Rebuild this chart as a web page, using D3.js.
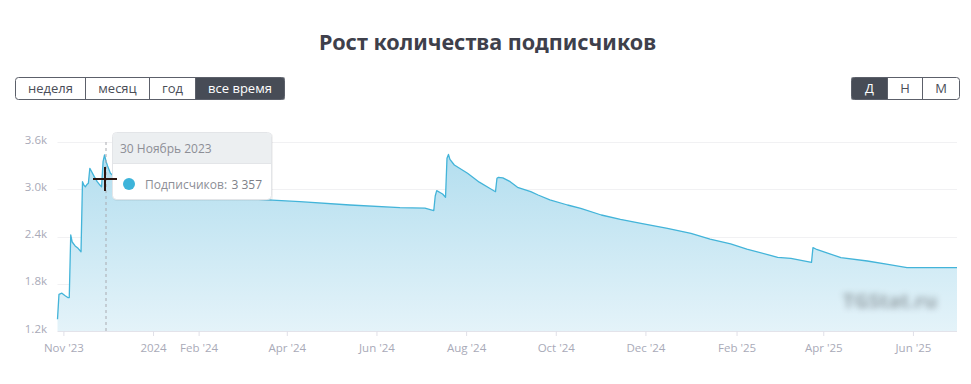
<!DOCTYPE html>
<html><head><meta charset="utf-8">
<script src="https://cdn.jsdelivr.net/npm/d3@7"></script>
<style>
body{margin:0;background:#fff;}
svg{display:block;}
</style></head>
<body>
<svg id="c" width="971" height="384"></svg>
<script>
const title = "Рост количества подписчиков";
const rangeButtons = ["неделя", "месяц", "год", "все время"];
const periodButtons = ["Д", "Н", "М"];

const dates = ["2023-10-28","2023-10-29","2023-10-31","2023-11-02","2023-11-04","2023-11-05","2023-11-06","2023-11-07","2023-11-09","2023-11-11","2023-11-13","2023-11-14","2023-11-15","2023-11-16","2023-11-17","2023-11-18","2023-11-19","2023-11-20","2023-11-22","2023-11-24","2023-11-26","2023-11-27","2023-11-28","2023-11-29","2023-11-30","2023-12-01","2023-12-03","2023-12-09","2023-12-20","2024-01-06","2024-02-02","2024-02-29","2024-03-22","2024-04-10","2024-05-14","2024-06-17","2024-07-04","2024-07-10","2024-07-11","2024-07-12","2024-07-16","2024-07-18","2024-07-19","2024-07-20","2024-07-21","2024-07-24","2024-08-02","2024-08-10","2024-08-17","2024-08-21","2024-08-22","2024-08-23","2024-08-26","2024-08-31","2024-09-05","2024-09-14","2024-09-19","2024-09-27","2024-10-09","2024-10-18","2024-11-01","2024-11-14","2024-11-28","2024-12-16","2025-01-01","2025-01-14","2025-01-28","2025-02-08","2025-03-01","2025-03-10","2025-03-24","2025-03-25","2025-03-27","2025-04-13","2025-05-01","2025-05-15","2025-05-28","2025-06-15","2025-07-01"];
const subscribers = [1350,1665,1680,1650,1625,1625,2419,2330,2280,2250,2207,3096,3050,3032,3060,3076,3266,3232,3160,3096,3050,3032,3350,3435,3357,3300,3203,3100,3020,2960,2910,2885,2863,2842,2800,2766,2760,2728,2914,2982,2940,2898,3393,3443,3380,3308,3203,3090,3012,2969,3140,3152,3145,3096,3025,2969,2927,2865,2800,2758,2673,2618,2568,2504,2441,2368,2305,2241,2136,2123,2072,2258,2241,2131,2089,2047,2004,2004,2004];

const yTicks = [1200, 1800, 2400, 3000, 3600];
const yTickLabels = ["1.2k", "1.8k", "2.4k", "3.0k", "3.6k"];
const xTicks = ["2023-11-01","2024-01-01","2024-02-01","2024-04-01","2024-06-01","2024-08-01","2024-10-01","2024-12-01","2025-02-01","2025-04-01","2025-06-01"];
const xTickLabels = ["Nov '23","2024","Feb '24","Apr '24","Jun '24","Aug '24","Oct '24","Dec '24","Feb '25","Apr '25","Jun '25"];

const tooltipDate = "2023-11-30";
const tooltipTitle = "30 Ноябрь 2023";
const tooltipLabel = "Подписчиков:";
const tooltipValue = "3 357";
const watermark = "TGStat.ru";

const parse = d3.utcParse("%Y-%m-%d");
const data = dates.map((d, i) => ({date: parse(d), value: subscribers[i]}));

const svg = d3.select("#c");
const font = "'Open Sans', 'Noto Sans', sans-serif";

// Title
svg.append("text").attr("x", 487.5).attr("y", 49.5).attr("text-anchor", "middle")
  .attr("font-family", "'Noto Sans', sans-serif").attr("font-weight", 700)
  .attr("font-size", 21.6).attr("fill", "#3e404b").text(title);

// Buttons
function buttonGroup(labels, edges, selected, y0, h) {
  const g = svg.append("g");
  labels.forEach((lab, i) => {
    const x0 = edges[i], x1 = edges[i + 1];
    if (i === selected) {
      g.append("rect").attr("x", x0).attr("y", y0).attr("width", x1 - x0).attr("height", h)
        .attr("fill", "#474c56");
    }
    g.append("text").attr("x", (x0 + x1) / 2).attr("y", y0 + h / 2 + 4.5)
      .attr("text-anchor", "middle").attr("font-family", font).attr("font-size", 13)
      .attr("fill", i === selected ? "#ffffff" : "#4a4d57").text(lab);
    if (i > 0) {
      g.append("line").attr("x1", x0).attr("x2", x0).attr("y1", y0).attr("y2", y0 + h)
        .attr("stroke", "#5c606a").attr("stroke-width", 1);
    }
  });
  g.append("rect").attr("x", edges[0]).attr("y", y0).attr("width", edges[edges.length - 1] - edges[0])
    .attr("height", h).attr("rx", 3).attr("fill", "none").attr("stroke", "#5c606a").attr("stroke-width", 1);
}
buttonGroup(rangeButtons, [15.5, 85.5, 149.5, 195.5, 284.5], 3, 77.5, 22);
buttonGroup(periodButtons, [851.5, 887.5, 922.5, 959.5], 0, 77.5, 22);

// Scales
const x = d3.scaleUtc().domain([parse("2023-10-28"), parse("2025-07-01")]).range([57.5, 957]);
const y = d3.scaleLinear().domain([1200, 3600]).range([331, 142]);

// Grid
svg.append("g").selectAll("line").data(yTicks.slice(1)).join("line")
  .attr("x1", 57.5).attr("x2", 957).attr("y1", d => Math.round(y(d)) + 0.5).attr("y2", d => Math.round(y(d)) + 0.5)
  .attr("stroke", "#f1f1f3").attr("stroke-width", 1);

// Y labels
svg.append("g").selectAll("text").data(yTicks).join("text")
  .attr("x", 47).attr("y", d => y(d) + 1.5).attr("text-anchor", "end")
  .attr("font-family", font).attr("font-size", 11.5).attr("fill", "#a9aab8")
  .text((d, i) => yTickLabels[i]);

// Gradient
const defs = svg.append("defs");
const grad = defs.append("linearGradient").attr("id", "ag").attr("x1", 0).attr("x2", 0).attr("y1", 0).attr("y2", 1);
grad.append("stop").attr("offset", "0%").attr("stop-color", "#b3deef");
grad.append("stop").attr("offset", "100%").attr("stop-color", "#e4f3f9");
const blur = defs.append("filter").attr("id", "blur").attr("x", "-20%").attr("y", "-60%").attr("width", "140%").attr("height", "220%");
blur.append("feGaussianBlur").attr("stdDeviation", 3.4);

// Area
const area = d3.area().x(d => x(d.date)).y0(y(1200)).y1(d => y(d.value));
svg.append("path").datum(data).attr("d", area).attr("fill", "url(#ag)");
const line = d3.line().x(d => x(d.date)).y(d => y(d.value));
svg.append("path").datum(data).attr("d", line).attr("fill", "none")
  .attr("stroke", "#43b4d9").attr("stroke-width", 1.3).attr("stroke-linejoin", "round");

// Watermark
svg.append("text").attr("x", 890).attr("y", 308).attr("text-anchor", "middle")
  .attr("font-family", font).attr("font-weight", 700).attr("font-size", 20)
  .attr("fill", "#8f9aa0").attr("filter", "url(#blur)").attr("opacity", 0.9).text(watermark);

// X axis
const xAxis = d3.axisBottom(x).tickValues(xTicks.map(parse)).tickSize(5)
  .tickFormat((d, i) => xTickLabels[i]);
const gx = svg.append("g").attr("transform", "translate(0,331)").call(xAxis);
gx.select(".domain").attr("d", "M57.5,0.5H957").attr("stroke", "#e3e3ea");
gx.selectAll(".tick line").attr("stroke", "#e0e0e8");
gx.selectAll(".tick text").attr("font-family", font).attr("font-size", 11.5).attr("fill", "#a9aab8").attr("dy", "1.15em");

// Crosshair (dashed)
const tx = x(parse(tooltipDate));
svg.append("line").attr("x1", tx).attr("x2", tx).attr("y1", 142).attr("y2", 331)
  .attr("stroke", "#a9aab0").attr("stroke-width", 1).attr("stroke-dasharray", "3,3");

// Tooltip
const tip = svg.append("g");
tip.append("rect").attr("x", 113).attr("y", 133).attr("width", 160).attr("height", 68).attr("rx", 4)
  .attr("fill", "#000").attr("opacity", 0.05);
tip.append("rect").attr("x", 112.5).attr("y", 132.5).attr("width", 159).attr("height", 67).attr("rx", 4)
  .attr("fill", "#fff").attr("stroke", "#e3e5e8");
tip.append("path").attr("d", "M113,163V137a4,4 0 0 1 4,-4H267a4,4 0 0 1 4,4V163Z").attr("fill", "#eceff1");
tip.append("line").attr("x1", 113).attr("x2", 271).attr("y1", 163.5).attr("y2", 163.5).attr("stroke", "#e3e5e8");
tip.append("text").attr("x", 120).attr("y", 152.5).attr("font-family", font).attr("font-size", 12)
  .attr("fill", "#8c8e96").text(tooltipTitle);
tip.append("circle").attr("cx", 129).attr("cy", 184).attr("r", 6).attr("fill", "#3db4da");
tip.append("text").attr("x", 145).attr("y", 188.5).attr("font-family", font).attr("font-size", 12)
  .attr("fill", "#8c8e96").text(tooltipLabel);
tip.append("text").attr("x", 262).attr("y", 188.5).attr("text-anchor", "end").attr("font-family", font).attr("font-size", 12)
  .attr("fill", "#7d7f88").text(tooltipValue);

// Mouse cursor
const cur = svg.append("g");
cur.append("line").attr("x1", 93).attr("x2", 117).attr("y1", 179).attr("y2", 179).attr("stroke", "#2b1510").attr("stroke-width", 2);
cur.append("line").attr("x1", 105).attr("x2", 105).attr("y1", 167).attr("y2", 191).attr("stroke", "#2b1510").attr("stroke-width", 2);
</script>
</body></html>
